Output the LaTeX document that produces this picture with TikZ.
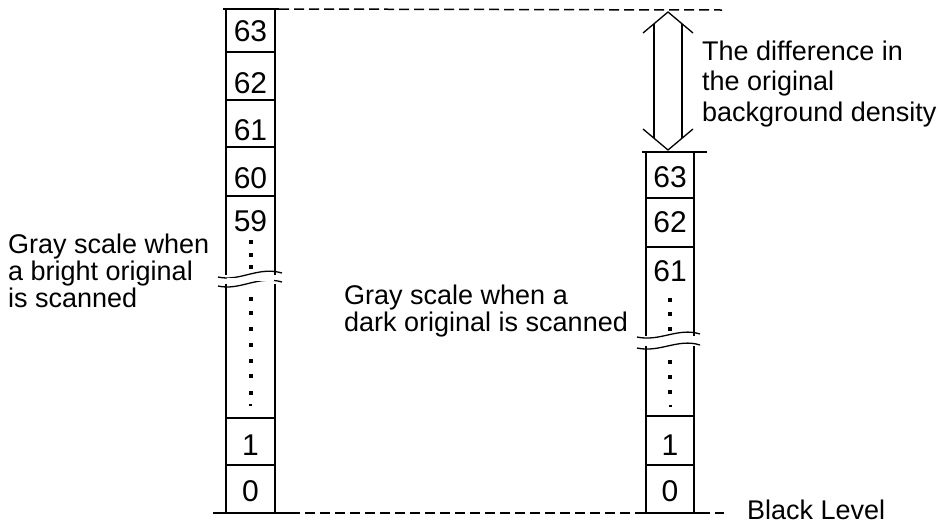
\documentclass[tikz,border=0pt]{standalone}
\usepackage{fontspec}
\setmainfont{Liberation Sans}
\usetikzlibrary{calc}
\begin{document}
\begin{tikzpicture}[x=1pt,y=-1pt,
  colline/.style={line width=1.6pt},
  dashline/.style={line width=1.5pt, dash pattern=on 10pt off 5pt},
  digit/.style={anchor=base, inner sep=0pt, font=\fontsize{30}{30}\selectfont},
  lbl/.style={anchor=base west, inner sep=0pt, align=left, font=\fontsize{27}{27}\selectfont},
  lblwide/.style={lbl, font=\fontsize{27}{30.5}\selectfont},
  dotsq/.style={fill=black, minimum width=4pt, minimum height=4pt, inner sep=0pt, draw=none},
  smalldot/.style={fill=black, minimum width=3pt, minimum height=1.5pt, inner sep=0pt, draw=none},
  arrowline/.style={line width=1.3pt},
  wave/.style={line width=1.3pt}]
\useasboundingbox (0,0) rectangle (944,523);
\fill[white] (0,0) rectangle (944,523);

% ---------- left column ----------
\coordinate (LTl) at (223,9);
\coordinate (LTr) at (279,9);
\coordinate (LBl) at (213,513);
\coordinate (LBr) at (290,513);
\draw[colline] (LTl) -- (LTr);
\draw[colline] (LBl) -- (LBr);
\draw[colline] (226,9) -- (226,275);
\draw[colline] (275,9) -- (275,275);
\draw[colline] (226,284) -- (226,513);
\draw[colline] (275,284) -- (275,513);
\foreach \y in {52,100,147,196,418,465} \draw[colline] (226,\y) -- (275,\y);
\draw[wave] (218,277) .. controls (240,282) and (258,266) .. (282,273);
\draw[wave] (218,286) .. controls (240,291) and (258,275) .. (282,282);
\fill[white] (227,278) rectangle (274,281);

\node[digit] (l63) at (250.5,41) {63};
\node[digit] (l62) at (250.5,93) {62};
\node[digit] (l61) at (250.5,140) {61};
\node[digit] (l60) at (250.5,188) {60};
\node[digit] (l59) at (250.5,231) {59};
\node[digit] (l1) at (250.5,455) {1};
\node[digit] (l0) at (250.5,501) {0};
\foreach \y [count=\i] in {242,255,267,299,313,329,345,361,376,393}
  \node[dotsq] (ld\i) at (250.5,\y) {};
\node[smalldot] (ldx) at (250.5,405) {};

% ---------- right column ----------
\coordinate (RTl) at (642,152);
\coordinate (RTr) at (707,152);
\coordinate (RBl) at (636,513);
\coordinate (RBr) at (700,513);
\draw[colline] (RTl) -- (RTr);
\draw[colline] (RBl) -- (RBr);
\draw[colline] (646,152) -- (646,336);
\draw[colline] (694,152) -- (694,336);
\draw[colline] (646,346) -- (646,513);
\draw[colline] (694,346) -- (694,513);
\foreach \y in {198,247,416,465} \draw[colline] (646,\y) -- (694,\y);
\draw[wave] (637,337) .. controls (660,342) and (678,327) .. (700,334);
\draw[wave] (637,348) .. controls (660,353) and (678,338) .. (700,345);
\fill[white] (647,339) rectangle (693,342);

\node[digit] (r63) at (670,187) {63};
\node[digit] (r62) at (670,232) {62};
\node[digit] (r61) at (670,281) {61};
\node[digit] (r1) at (670,455) {1};
\node[digit] (r0) at (670,501) {0};
\foreach \y [count=\i] in {300,314,329,362,377,392}
  \node[dotsq] (rd\i) at (670,\y) {};
\node[smalldot] (rdx) at (670,406) {};

% ---------- dashed reference lines ----------
\coordinate (topend) at (722,10);
\coordinate (botend) at (724,513);
\draw[dashline] (LTr) -- (topend);
\draw[dashline] (LBr) -- (RBl);
\draw[dashline] (RBr) -- (botend);

% ---------- double arrow ----------
\coordinate (atop) at (668,12);
\coordinate (abot) at (668,150);
\draw[arrowline] ($(atop)+(-25,21)$) -- (atop) -- ($(atop)+(25,21)$);
\draw[arrowline] ($(abot)+(-25,-21)$) -- (abot) -- ($(abot)+(25,-21)$);
\draw[arrowline] ($(atop)+(-14,11.8)$) -- ($(abot)+(-14,-11.8)$);
\draw[arrowline] ($(atop)+(14,11.8)$) -- ($(abot)+(14,-11.8)$);

% ---------- labels (anchor = baseline of last line) ----------
\node[lbl] (lbright) at (8,307) {Gray scale when\\a bright original\\is scanned};
\node[lbl] (ldark) at (344,331) {Gray scale when a\\dark original is scanned};
\node[lblwide] (ldiff) at (702,121) {The difference in\\the original\\background density};
\node[lbl] (lblack) at (747,519) {Black Level};
\end{tikzpicture}
\end{document}
